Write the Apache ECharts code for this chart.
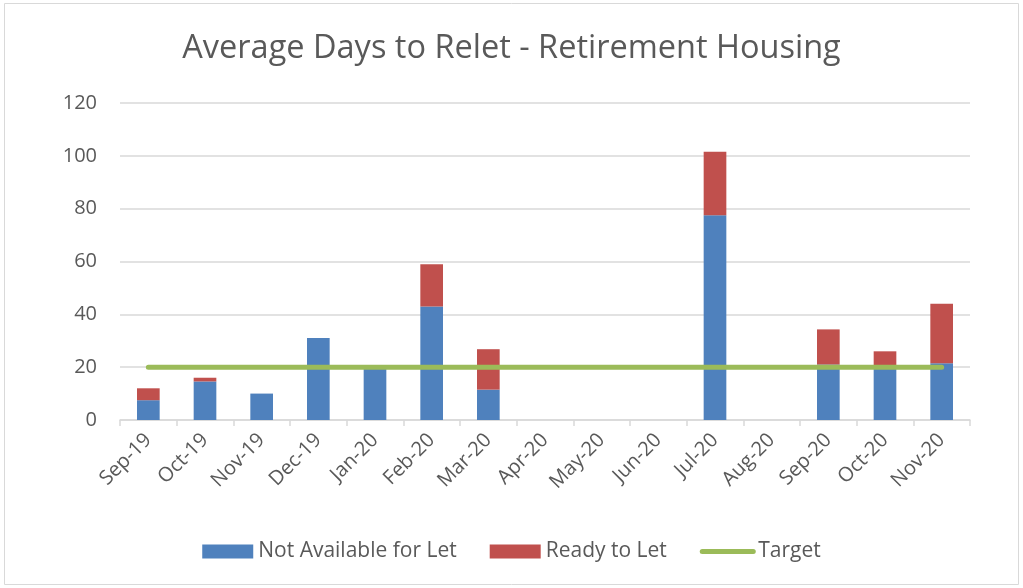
<!DOCTYPE html>
<html><head><meta charset="utf-8">
<script src="https://cdn.jsdelivr.net/npm/echarts@6/dist/echarts.min.js"></script>
<style>html,body{margin:0;padding:0;background:#fff}#c{width:1023px;height:588px}</style>
</head><body><div id="c"></div>
<script>
const categories = ['Sep-19','Oct-19','Nov-19','Dec-19','Jan-20','Feb-20','Mar-20','Apr-20','May-20','Jun-20','Jul-20','Aug-20','Sep-20','Oct-20','Nov-20'];
const notAvailable = [7.5, 14.6, 10, 31, 20.5, 43, 11.5, 0, 0, 0, 77.5, 0, 21, 20.5, 21.5];
const readyToLet = [4.5, 1.4, 0, 0, 0, 16, 15.3, 0, 0, 0, 24, 0, 13.3, 5.5, 22.5];
const target = [20, 20, 20, 20, 20, 20, 20, 20, 20, 20, 20, 20, 20, 20, 20];
const yTicks = {min: 0, max: 120, interval: 20};

const chart = echarts.init(document.getElementById('c'));
const txt = '#595959';
const font = '"Open Sans", "Liberation Sans", sans-serif';
chart.setOption({
  animation: false,
  textStyle: {fontFamily: font},
  graphic: [{type: 'rect', shape: {x: 4.5, y: 3.5, width: 1014, height: 581}, style: {fill: 'none', stroke: '#d9d9d9', lineWidth: 1}, silent: true}],
  title: {text: 'Average Days to Relet - Retirement Housing', left: 'center', top: 27,
    textStyle: {fontSize: 32.5, fontWeight: 'normal', color: txt, fontFamily: font}},
  grid: {left: 120, right: 53, top: 103, bottom: 168, containLabel: false},
  legend: {bottom: 21, left: 'center', itemGap: 33, itemWidth: 51, itemHeight: 14,
    textStyle: {fontSize: 21, color: txt},
    data: [
      {name: 'Not Available for Let', icon: 'rect'},
      {name: 'Ready to Let', icon: 'rect'},
      {name: 'Target', itemStyle: {opacity: 0}, lineStyle: {color: '#9BBB59', width: 5, cap: 'round'}}
    ]},
  xAxis: {type: 'category', data: categories,
    axisLine: {lineStyle: {color: '#d9d9d9', width: 1.5}},
    axisTick: {show: true, length: 6, lineStyle: {color: '#d9d9d9', width: 1.5}},
    axisLabel: {rotate: 45, fontSize: 20, color: txt, margin: 17}},
  yAxis: {type: 'value', min: yTicks.min, max: yTicks.max, interval: yTicks.interval,
    axisLine: {show: false}, axisTick: {show: false},
    axisLabel: {fontSize: 20, color: txt, margin: 23},
    splitLine: {lineStyle: {color: '#d9d9d9', width: 1.5}}},
  series: [
    {name: 'Not Available for Let', type: 'bar', stack: 's', data: notAvailable, barWidth: '40%',
      itemStyle: {color: '#4F81BD'}},
    {name: 'Ready to Let', type: 'bar', stack: 's', data: readyToLet, barWidth: '40%',
      itemStyle: {color: '#C0504D'}},
    {name: 'Target', type: 'line', data: target, symbol: 'none', z: 5,
      lineStyle: {color: '#9BBB59', width: 5, cap: 'round'}, itemStyle: {color: '#9BBB59'}}
  ]
});
</script></body></html>
